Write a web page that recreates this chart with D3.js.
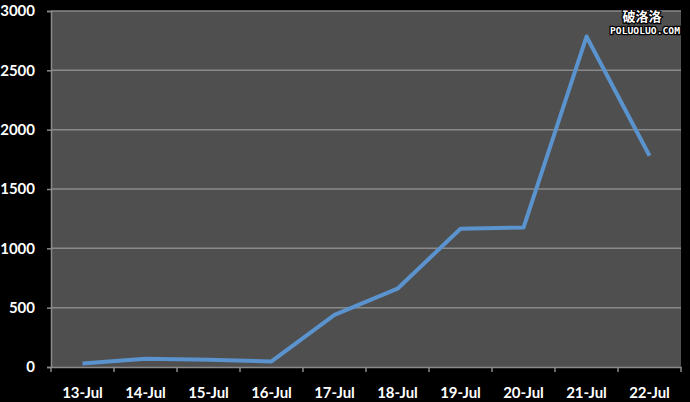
<!DOCTYPE html>
<html><head><meta charset="utf-8">
<script src="https://cdn.jsdelivr.net/npm/d3@7"></script>
<style>body{margin:0;background:#000;}svg{display:block;}</style>
</head><body>
<script>
const categories = ["13-Jul","14-Jul","15-Jul","16-Jul","17-Jul","18-Jul","19-Jul","20-Jul","21-Jul","22-Jul"];
const values = [30, 70, 62, 47, 440, 660, 1165, 1175, 2785, 1780];
const yTicks = [0, 500, 1000, 1500, 2000, 2500, 3000];

const W = 690, H = 402;
const m = {left: 51, right: 9, top: 11, bottom: 35};
const svg = d3.select("body").append("svg").attr("width", W).attr("height", H);
svg.append("rect").attr("width", W).attr("height", H).attr("fill", "#000");

const x = d3.scaleBand().domain(categories).range([m.left, W - m.right]);
const y = d3.scaleLinear().domain([0, 3000]).range([H - m.bottom, m.top]);

svg.append("rect").attr("x", m.left).attr("y", m.top)
  .attr("width", W - m.right - m.left).attr("height", H - m.bottom - m.top)
  .attr("fill", "#4f4f4f");

// gridlines
svg.append("g").selectAll("line").data(yTicks.filter(d => d > 0)).join("line")
  .attr("x1", m.left).attr("x2", W - m.right)
  .attr("y1", d => y(d)).attr("y2", d => y(d))
  .attr("stroke", "#8a8a8a").attr("stroke-width", 1.5);

// y axis
const yAxis = svg.append("g").attr("transform", `translate(${m.left},0)`)
  .call(d3.axisLeft(y).tickValues(yTicks).tickFormat(d3.format("d")).tickSize(4).tickPadding(12));
yAxis.select(".domain").attr("stroke", "#8a8a8a").attr("stroke-width", 1.5);
yAxis.selectAll(".tick line").attr("stroke", "#8a8a8a").attr("stroke-width", 1.5);
yAxis.selectAll("text").attr("fill", "#fff").attr("font-family", "Lato, 'Open Sans', sans-serif")
  .attr("font-weight", "bold").attr("font-size", 15);

// x axis
const xAxis = svg.append("g").attr("transform", `translate(0,${H - m.bottom})`)
  .call(d3.axisBottom(x).tickSize(0).tickPadding(20));
xAxis.select(".domain").attr("stroke", "#8a8a8a").attr("stroke-width", 1.5);
xAxis.selectAll("text").attr("fill", "#fff").attr("font-family", "Lato, 'Open Sans', sans-serif")
  .attr("font-weight", "bold").attr("font-size", 15);
// category boundary tick marks
const bounds = categories.map(c => x(c)).concat([x(categories[categories.length-1]) + x.bandwidth()]);
svg.append("g").selectAll("line").data(bounds).join("line")
  .attr("x1", d => d).attr("x2", d => d)
  .attr("y1", H - m.bottom).attr("y2", H - m.bottom + 5)
  .attr("stroke", "#8a8a8a").attr("stroke-width", 1.5);

// line
const line = d3.line().x((d, i) => x(categories[i]) + x.bandwidth() / 2).y(d => y(d));
svg.append("path").datum(values).attr("d", line)
  .attr("fill", "none").attr("stroke", "#5a93cd").attr("stroke-width", 4)
  .attr("stroke-linejoin", "round").attr("stroke-linecap", "butt");

// watermark
const wm = svg.append("g");
wm.append("text").attr("x", 642).attr("y", 21).attr("text-anchor", "middle")
  .attr("font-family", "'Noto Sans CJK SC', sans-serif").attr("font-size", 13).attr("font-weight", "bold")
  .attr("fill", "#fff").attr("stroke", "#000").attr("stroke-width", 2.5).attr("paint-order", "stroke")
  .text("破洛洛");
wm.append("text").attr("x", 645).attr("y", 34).attr("text-anchor", "middle")
  .attr("font-family", "'DejaVu Sans Mono', monospace").attr("font-size", 9).attr("font-weight", "bold")
  .attr("fill", "#fff").attr("stroke", "#000").attr("stroke-width", 2.5).attr("paint-order", "stroke")
  .attr("textLength", 70).attr("lengthAdjust", "spacingAndGlyphs")
  .text("POLUOLUO.COM");
</script>
</body></html>
